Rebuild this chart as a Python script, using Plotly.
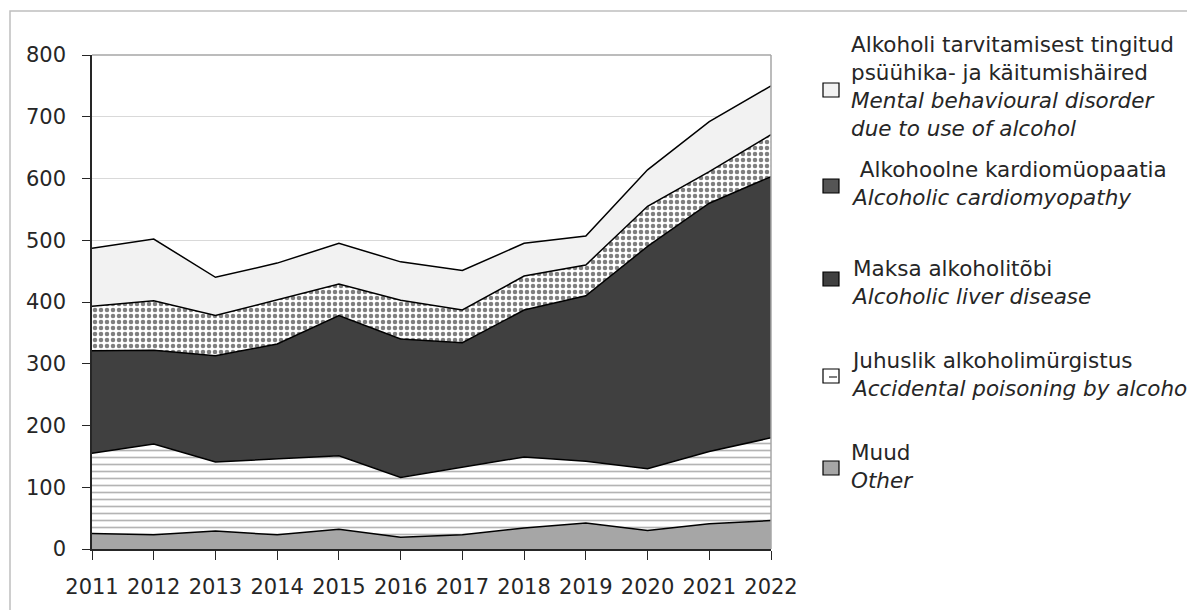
import plotly.graph_objects as go

years = [2011, 2012, 2013, 2014, 2015, 2016, 2017, 2018, 2019, 2020, 2021, 2022]
other = [25, 23, 29, 23, 32, 19, 23, 34, 42, 30, 41, 46]
accidental = [130, 147, 112, 123, 119, 97, 110, 115, 100, 100, 117, 134]
liver = [166, 152, 172, 186, 227, 224, 201, 238, 268, 360, 402, 423]
cardio = [72, 80, 65, 72, 51, 63, 53, 55, 50, 65, 51, 68]
mental = [94, 100, 62, 59, 66, 62, 64, 53, 47, 59, 81, 79]

legend_texts = [
    "Alkoholi tarvitamisest tingitud<br>psüühika- ja käitumishäired<br><i>Mental behavioural disorder</i><br><i>due to use of alcohol</i>",
    " Alkohoolne kardiomüopaatia<br><i>Alcoholic cardiomyopathy</i>",
    "Maksa alkoholitõbi<br><i>Alcoholic liver disease</i>",
    "Juhuslik alkoholimürgistus<br><i>Accidental poisoning by alcohol</i>",
    "Muud<br><i>Other</i>",
]

OFF = 8  # page body margin
W, H = 1195 - OFF, 610 - OFF
L, R, T, B = 92, 771, 55, 549  # screen pixel positions of plot area

def px(x):
    return (x - L) / (R - L)

def py(y):
    return (B - y) / (B - T)

FONT = "DejaVu Sans"
TXT = "#262626"

fig = go.Figure()
line = dict(color="black", width=1.5)
fig.add_trace(go.Scatter(x=years, y=other, stackgroup="s", mode="lines", line=line,
                         fillcolor="#a6a6a6", name="Muud"))
fig.add_trace(go.Scatter(x=years, y=accidental, stackgroup="s", mode="lines", line=line,
                         fillcolor="white",
                         fillpattern=dict(shape="-", bgcolor="white", fgcolor="#6a6a6a",
                                          size=7, solidity=0.24),
                         name="Juhuslik"))
fig.add_trace(go.Scatter(x=years, y=liver, stackgroup="s", mode="lines", line=line,
                         fillcolor="#404040", name="Maksa"))
fig.add_trace(go.Scatter(x=years, y=cardio, stackgroup="s", mode="lines", line=line,
                         fillcolor="white",
                         fillpattern=dict(shape=".", bgcolor="white", fgcolor="black",
                                          size=6, solidity=0.45),
                         name="Kardio"))
fig.add_trace(go.Scatter(x=years, y=mental, stackgroup="s", mode="lines", line=line,
                         fillcolor="#f2f2f2", name="Mental"))

shapes = []
# outer chart border
shapes.append(dict(type="rect", xref="paper", yref="paper",
                   x0=px(10), x1=px(1300), y0=py(11), y1=py(700),
                   line=dict(color="#bfbfbf", width=1.5), layer="below"))
# plot area top/right border
shapes.append(dict(type="line", xref="paper", yref="paper", x0=0, x1=1, y0=1, y1=1,
                   line=dict(color="#a6a6a6", width=1.5), layer="above"))
shapes.append(dict(type="line", xref="paper", yref="paper", x0=1, x1=1, y0=0, y1=1,
                   line=dict(color="#a6a6a6", width=1.5), layer="above"))

# legend
centers_text = [87, 184, 282, 374, 466]
centers_sq = [90, 186, 279, 376, 468]
sq_fill = ["#f2f2f2", "#555555", "#404040", "white", "#a6a6a6"]
annotations = []
for txt, yc, ys, fc in zip(legend_texts, centers_text, centers_sq, sq_fill):
    annotations.append(dict(xref="paper", yref="paper", x=px(849), y=py(yc),
                            xanchor="left", yanchor="middle", align="left",
                            text=txt, showarrow=False,
                            font=dict(family=FONT, size=21.5, color=TXT)))
    shapes.append(dict(type="rect", xref="paper", yref="paper",
                       x0=px(823), x1=px(839), y0=py(ys - 7), y1=py(ys + 7),
                       fillcolor=fc, line=dict(color="black", width=1.2)))
shapes.append(dict(type="line", xref="paper", yref="paper",
                   x0=px(829), x1=px(837), y0=py(377), y1=py(377),
                   line=dict(color="#555555", width=1.5)))

fig.update_layout(
    width=W, height=H,
    margin=dict(l=L - OFF, r=W - (R - OFF), t=T - OFF, b=H - (B - OFF), autoexpand=False),
    plot_bgcolor="white", paper_bgcolor="white",
    showlegend=False,
    font=dict(family=FONT, size=21, color=TXT),
    shapes=shapes, annotations=annotations,
)
fig.update_xaxes(range=[2011, 2022], tickmode="array", tickvals=years,
                 ticktext=[str(y) for y in years], automargin=False,
                 showgrid=False, showline=True, linecolor="#262626", linewidth=1.5,
                 ticks="outside", ticklen=9, tickcolor="#262626", zeroline=False,
                 ticklabelstandoff=9, tickfont=dict(size=21))
fig.update_yaxes(range=[0, 800], dtick=100, showgrid=True, gridcolor="#d9d9d9",
                 gridwidth=1, showline=True, linecolor="#262626", linewidth=1.5,
                 ticks="outside", ticklen=8, tickcolor="#262626", zeroline=False,
                 automargin=False,
                 ticklabelstandoff=12, tickfont=dict(size=21))

fig.write_html("out.html")
